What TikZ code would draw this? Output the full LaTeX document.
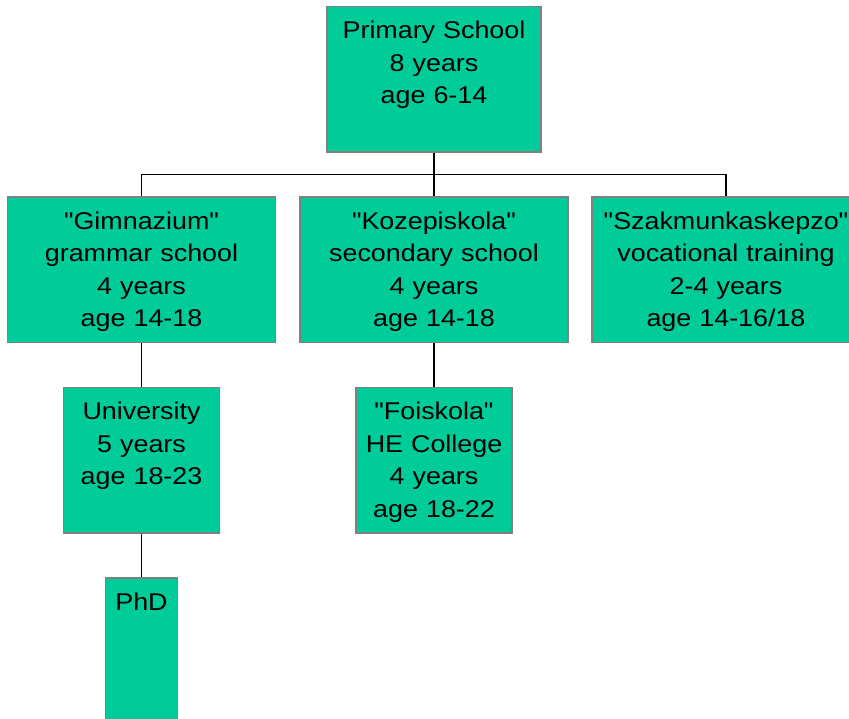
\documentclass[tikz,border=0pt]{standalone}
\usepackage{fontspec}
\setmainfont{Liberation Sans}[FakeStretch=1.11, Ligatures=TeXOff]
\usepackage{tikz}
\usetikzlibrary{positioning}
\definecolor{schoolgreen}{RGB}{0,204,153}
\definecolor{edgegray}{RGB}{128,128,128}
\tikzset{
	school/.style={draw=edgegray, line width=1.5pt, fill=schoolgreen, align=center,
		inner xsep=0pt, inner ysep=8pt, text height=24.5pt, text depth=105pt,
		font=\fontsize{24.2}{32.5}\selectfont},
	link/.style={line width=1.5pt}
}
\begin{document}
\begin{tikzpicture}[x=1pt, y=1pt, node distance=43.5pt]
		\useasboundingbox (0,0) rectangle (849,-718);
		\node[school, text width=214pt, anchor=north] (Primary) at (434,-5.7) {Primary School\\ 8 years\\ age 6-14} ;
		\node[school, text width=268pt, below=of Primary] (Kozep) {"Kozepiskola"\\ secondary school\\ 4 years\\ age 14-18} ;
		\node[school, text width=268pt, left=23pt of Kozep] (Gimn) {"Gimnazium"\\ grammar school\\ 4 years\\ age 14-18} ;
		\node[school, text width=268pt, right=22.5pt of Kozep] (Szak) {"Szakmunkaskepzo"\\ vocational training\\ 2-4 years\\ age 14-16/18} ;
		\node[school, text width=156pt, below=of Gimn] (Univ) {University\\ 5 years\\ age 18-23} ;
		\node[school, text width=156pt, below=of Kozep] (Foisk) {"Foiskola"\\ HE College\\ 4 years\\ age 18-22} ;
		\node[school, text width=72pt, text depth=130pt, below=of Univ] (PhD) {PhD} ;
		\draw[link] (Primary.south) -- ++(0,-22) coordinate (bus) ;
		\draw[link] (bus) -| (Gimn.north) ;
		\draw[link] (bus) -- (Kozep.north) ;
		\draw[link] (bus) -| (Szak.north) ;
		\draw[link] (Gimn.south) -- (Univ.north) ;
		\draw[link] (Kozep.south) -- (Foisk.north) ;
		\draw[link] (Univ.south) -- (PhD.north) ;
	\end{tikzpicture}
\end{document}
